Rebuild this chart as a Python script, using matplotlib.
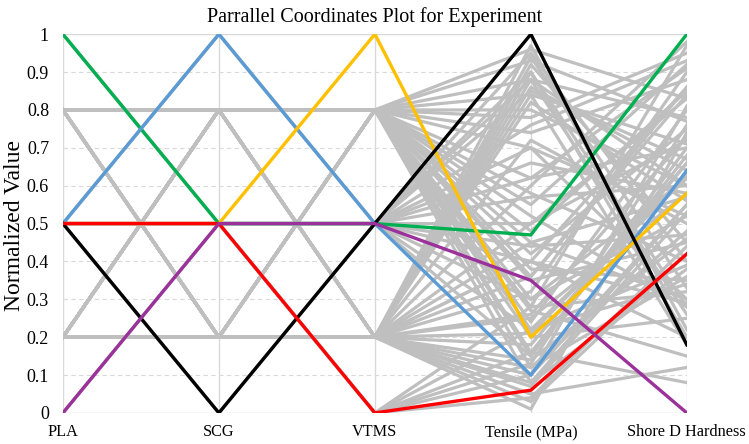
import matplotlib
matplotlib.use("Agg")
from matplotlib import pyplot as plt

plt.rcParams['font.family'] = ['Liberation Serif', 'DejaVu Serif']

axes_names = ['PLA', 'SCG', 'VTMS', 'Tensile (MPa)', 'Shore D Hardness']

# factor levels of each run (PLA, SCG, VTMS), normalized
runs = [
    (0.2, 0.2, 0.8), (0.8, 0.2, 0.8), (0.2, 0.8, 0.8), (0.8, 0.8, 0.8),
    (0.2, 0.2, 0.2), (0.8, 0.2, 0.2), (0.2, 0.8, 0.2), (0.8, 0.8, 0.2),
    (0.5, 0.5, 0.5), (0.0, 0.5, 0.5), (1.0, 0.5, 0.5), (0.5, 0.0, 0.5),
    (0.5, 1.0, 0.5), (0.5, 0.5, 0.0),
]

# replicate responses for each run (grey lines)
tensile_gray = [
    [0.78, 0.62, 0.45, 0.30, 0.12, 0.93, 0.36],
    [0.74, 0.58, 0.42, 0.27, 0.08, 0.88, 0.22],
    [0.70, 0.55, 0.38, 0.24, 0.20, 0.96, 0.16],
    [0.80, 0.52, 0.48, 0.35, 0.15, 0.84, 0.28],
    [0.97, 0.88, 0.72, 0.32, 0.08, 0.45, 0.26],
    [0.94, 0.86, 0.60, 0.25, 0.05, 0.14, 0.36],
    [0.92, 0.84, 0.50, 0.18, 0.03, 0.10, 0.40],
    [0.90, 0.82, 0.40, 0.12, 0.01, 0.21, 0.07],
    [0.95, 0.85, 0.70, 0.50, 0.30, 0.62, 0.40],
    [0.90, 0.57],
    [0.76, 0.44],
    [0.88, 0.15],
    [0.66, 0.22],
    [0.04, 0.10, 0.16, 0.22, 0.28, 0.13],
]
shore_gray = [
    [0.95, 0.70, 0.30, 0.62, 0.48, 0.77, 0.86],
    [0.88, 0.40, 0.75, 0.15, 0.55, 0.60, 0.39],
    [0.52, 0.92, 0.35, 0.80, 0.25, 0.83, 0.66],
    [0.60, 0.28, 0.85, 0.45, 0.68, 0.71, 0.97],
    [0.22, 0.78, 0.50, 0.90, 0.38, 0.57, 0.73],
    [0.33, 0.64, 0.98, 0.58, 0.12, 0.46, 0.84],
    [0.45, 0.18, 0.72, 0.66, 0.42, 0.81, 0.29],
    [0.28, 0.56, 0.86, 0.36, 0.74, 0.63, 0.53],
    [0.40, 0.67, 0.30, 0.83, 0.52, 0.91, 0.20],
    [0.20, 0.60],
    [0.93, 0.47],
    [0.26, 0.70],
    [0.58, 0.34],
    [0.44, 0.55, 0.08, 0.62, 0.32, 0.76],
]

# highlighted axial runs
hl_colors = ['#00B050', '#5B9BD5', '#FFC000', '#000000', '#FF0000', '#9B319B']
hl_rows = [
    [1.0, 0.5, 0.5, 0.47, 1.00],
    [0.5, 1.0, 0.5, 0.10, 0.64],
    [0.5, 0.5, 1.0, 0.20, 0.58],
    [0.5, 0.0, 0.5, 1.00, 0.18],
    [0.5, 0.5, 0.0, 0.06, 0.42],
    [0.0, 0.5, 0.5, 0.35, 0.00],
]

fig = plt.figure(figsize=(7.49, 4.44), dpi=100)
ax = fig.add_axes([0.084, 0.070, 0.833, 0.853])

xs = list(range(len(axes_names)))

for y in [i / 10 for i in range(1, 10)]:
    ax.axhline(y, color='#d9d9d9', lw=0.8, ls=(0, (4, 3)), zorder=0)
ax.axhline(1.0, color='#d9d9d9', lw=1.0, zorder=0)
ax.axhline(0.0, color='#d9d9d9', lw=1.0, zorder=0)
for x in xs:
    ax.axvline(x, color='#d9d9d9', lw=1.0, zorder=0)

for lev, ts, ss in zip(runs, tensile_gray, shore_gray):
    for t, s in zip(ts, ss):
        ax.plot(xs, [lev[0], lev[1], lev[2], t, s], color='#BFBFBF', lw=2.3,
                zorder=1)

for row, c in zip(hl_rows, hl_colors):
    ax.plot(xs, row, color=c, lw=2.4, zorder=3)

ax.set_xlim(0, 4)
ax.set_ylim(0, 1)
ax.set_yticks([i / 10 for i in range(11)])
ax.set_yticklabels(['0', '0.1', '0.2', '0.3', '0.4', '0.5', '0.6', '0.7', '0.8', '0.9', '1'])
ax.set_xticks(xs)
ax.set_xticklabels(axes_names, va='center')
ax.tick_params(length=0, colors='#000000')
ax.tick_params(axis='x', pad=14, labelsize=11.7)
ax.tick_params(axis='y', pad=10, labelsize=13)
for sp in ax.spines.values():
    sp.set_visible(False)

fig.text(0.020, 0.493, 'Normalized Value', fontsize=17, rotation=90,
         ha='center', va='center')
ax.set_title('Parrallel Coordinates Plot for Experiment', fontsize=14.5, pad=9)

fig.savefig('out.png', dpi=100)
